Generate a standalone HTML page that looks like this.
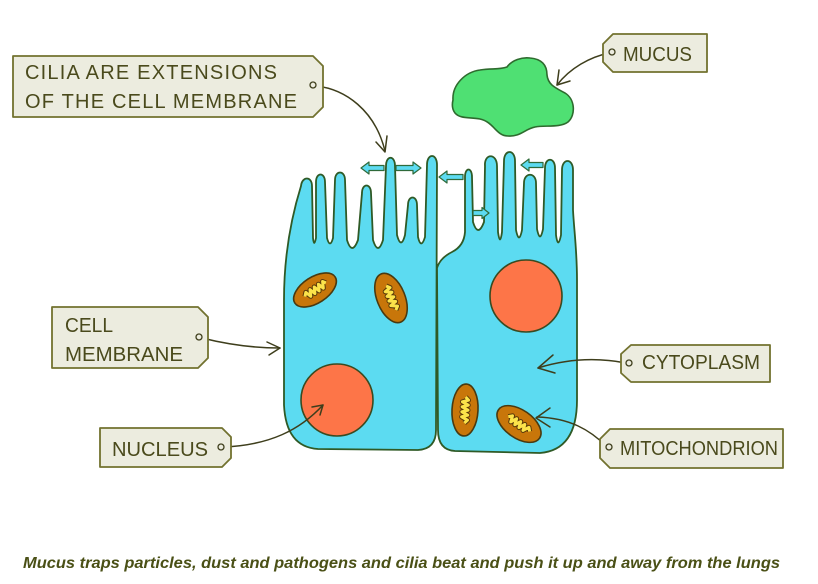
<!DOCTYPE html>
<html>
<head>
<meta charset="utf-8">
<style>
  html,body{margin:0;padding:0;background:#fff;}
  svg{display:block;}
  .lbl{font-family:"Liberation Sans",sans-serif;font-size:20px;fill:#4a4a1c;}
  .tag{fill:#ececdf;stroke:#72722f;stroke-width:1.8;stroke-linejoin:round;}
  .con{fill:none;stroke:#3e3e1c;stroke-width:1.5;stroke-linecap:round;stroke-linejoin:round;}
  .cell{fill:#5cdbf1;stroke:#2f5a26;stroke-width:1.8;stroke-linejoin:round;}
  .arr{fill:#5cdbf1;stroke:#2f6a3a;stroke-width:1.2;stroke-linejoin:round;}
  .mito{fill:#c8760a;stroke:#4a3a10;stroke-width:1.6;}
</style>
</head>
<body>
<svg width="818" height="584" viewBox="0 0 818 584" xmlns="http://www.w3.org/2000/svg">
  <rect width="818" height="584" fill="#fff"/>

  <!-- Mucus blob -->
  <path d="M 453,100 C 452,85 465,72 480,70 C 492,68 498,70 507,67 C 512,60 522,57 530,58 C 542,59 547,65 547,75 C 548,85 556,88 565,93 C 575,99 576,115 568,122 C 560,128 545,125 535,127 C 525,129 520,137 508,136 C 496,136 494,122 480,119 C 470,117 460,119 455,113 C 452,109 452,104 453,100 Z" fill="#4fe073" stroke="#2e6b2e" stroke-width="1.6"/>

  <!-- Left cell -->
  <path class="cell" d="M 284,300
    C 284,255 292,215 301,186
    C 302,176 312,176 312,186
    L 313,238 Q 314,248 316,238
    L 316,182 C 316,172 325,172 325,182
    L 327,238 Q 330,249 333,238
    L 335,180 C 335,170 345,170 345,180
    L 347,240 Q 352,256 358,240
    L 362,193 C 362,183 371,183 371,193
    L 373,240 Q 378,256 383,240
    L 386,166 C 386,155 395,155 395,166
    L 397,235 Q 401,250 405,235
    L 408,205 C 408,195 417,195 417,205
    L 418,237 Q 421,250 425,237
    L 427,165 C 427,153 437,153 437,165
    L 436,430 Q 436,449 418,450
    L 318,449 Q 286,447 284,405 Z"/>

  <!-- Right cell -->
  <path class="cell" d="M 438,430
    L 437,268 Q 440,258 452,252 Q 464,246 465,232
    L 465,177 C 465,167 472,167 472,177
    L 473,222 Q 478,238 484,222
    L 485,166 C 484,153 497,153 497,166
    L 498,232 Q 500,247 502,232
    L 504,161 C 504,149 515,149 515,161
    L 516,230 Q 519,245 522,230
    L 524,183 C 524,172 536,172 536,183
    L 537,229 Q 540,244 543,229
    L 545,168 C 545,157 555,157 555,168
    L 556,235 Q 558,250 561,235
    L 562,170 C 562,158 573,158 573,170
    L 573,210 C 574,230 577,250 577,280
    L 577,400 Q 577,450 540,453
    L 455,451 Q 438,450 438,430 Z"/>

  <!-- Cilia movement arrows -->
  <polygon class="arr" points="361,168 369,162 369,165.5 384,165.5 384,170.5 369,170.5 369,174"/>
  <polygon class="arr" points="421,168 413,162 413,165.5 396,165.5 396,170.5 413,170.5 413,174"/>
  <polygon class="arr" points="439,177 447,171 447,174.5 463,174.5 463,179.5 447,179.5 447,183"/>
  <polygon class="arr" points="489,213 482,207.5 482,210.5 473,210.5 473,215.5 482,215.5 482,218.5"/>
  <polygon class="arr" points="521,165 529,159 529,162.5 543,162.5 543,167.5 529,167.5 529,171"/>

  <!-- Nuclei -->
  <circle cx="337" cy="400" r="36" fill="#fd7548" stroke="#3a4a20" stroke-width="1.6"/>
  <circle cx="526" cy="296" r="36" fill="#fd7548" stroke="#3a4a20" stroke-width="1.6"/>

  <!-- Mitochondria -->
  <g transform="translate(315,290) rotate(-33)">
    <ellipse class="mito" rx="24" ry="13"/>
    <polyline points="-12,0 -9,-3 -7,3 -4,-3 -2,3 1,-3 3,3 6,-3 8,3 11,-3 13,0" fill="none" stroke="#5a3a0a" stroke-width="5" stroke-linejoin="round"/>
    <polyline points="-12,0 -9,-3 -7,3 -4,-3 -2,3 1,-3 3,3 6,-3 8,3 11,-3 13,0" fill="none" stroke="#fbe34a" stroke-width="3" stroke-linejoin="round"/>
  </g>
  <g transform="translate(391,298) rotate(68)">
    <ellipse class="mito" rx="26" ry="14"/>
    <polyline points="-13,0 -10,-3 -8,3 -5,-3 -3,3 0,-3 2,3 5,-3 7,3 10,-3 13,0" fill="none" stroke="#5a3a0a" stroke-width="5" stroke-linejoin="round"/>
    <polyline points="-13,0 -10,-3 -8,3 -5,-3 -3,3 0,-3 2,3 5,-3 7,3 10,-3 13,0" fill="none" stroke="#fbe34a" stroke-width="3" stroke-linejoin="round"/>
  </g>
  <g transform="translate(465,410) rotate(93)">
    <ellipse class="mito" rx="26" ry="13"/>
    <polyline points="-13,0 -10,-3 -8,3 -5,-3 -3,3 0,-3 2,3 5,-3 7,3 10,-3 13,0" fill="none" stroke="#5a3a0a" stroke-width="5" stroke-linejoin="round"/>
    <polyline points="-13,0 -10,-3 -8,3 -5,-3 -3,3 0,-3 2,3 5,-3 7,3 10,-3 13,0" fill="none" stroke="#fbe34a" stroke-width="3" stroke-linejoin="round"/>
  </g>
  <g transform="translate(519,424) rotate(35)">
    <ellipse class="mito" rx="25" ry="14"/>
    <polyline points="-13,0 -10,-3 -8,3 -5,-3 -3,3 0,-3 2,3 5,-3 7,3 10,-3 13,0" fill="none" stroke="#5a3a0a" stroke-width="5" stroke-linejoin="round"/>
    <polyline points="-13,0 -10,-3 -8,3 -5,-3 -3,3 0,-3 2,3 5,-3 7,3 10,-3 13,0" fill="none" stroke="#fbe34a" stroke-width="3" stroke-linejoin="round"/>
  </g>

  <!-- Connectors -->
  <path class="con" d="M 316,86 C 345,89 375,110 385,151"/>
  <path class="con" d="M 376,142 L 385,152 L 387,136"/>

  <path class="con" d="M 609,53 C 590,57 570,68 557,85"/>
  <path class="con" d="M 559,70 L 557,85 L 570,81"/>

  <path class="con" d="M 202,338 C 230,345 255,348 280,348"/>
  <path class="con" d="M 267,342 L 280,348 L 269,355"/>

  <path class="con" d="M 224,447 C 270,445 300,430 323,405"/>
  <path class="con" d="M 312,407 L 323,405 L 320,415"/>

  <path class="con" d="M 626,363 C 600,358 570,358 538,368"/>
  <path class="con" d="M 553,355 L 538,368 L 555,373"/>

  <path class="con" d="M 606,446 C 590,430 570,418 537,417"/>
  <path class="con" d="M 550,408 L 536,418 L 550,427"/>

  <!-- Tags -->
  <path class="tag" d="M 13,56 L 313,56 L 323,66 L 323,107 L 313,117 L 13,117 Z"/>
  <circle cx="313" cy="85" r="3" fill="#ececdf" stroke="#3e3e1c" stroke-width="1.3"/>
  <text class="lbl" x="25" y="79" textLength="252" lengthAdjust="spacing">CILIA  ARE  EXTENSIONS</text>
  <text class="lbl" x="25" y="108" textLength="272" lengthAdjust="spacing">OF THE CELL MEMBRANE</text>

  <path class="tag" d="M 613,34 L 707,34 L 707,72 L 613,72 L 603,62 L 603,44 Z"/>
  <circle cx="612" cy="52" r="3" fill="#ececdf" stroke="#3e3e1c" stroke-width="1.3"/>
  <text class="lbl" x="623" y="61" textLength="69" lengthAdjust="spacingAndGlyphs">MUCUS</text>

  <path class="tag" d="M 52,307 L 198,307 L 208,317 L 208,358 L 198,368 L 52,368 Z"/>
  <circle cx="199" cy="337" r="3" fill="#ececdf" stroke="#3e3e1c" stroke-width="1.3"/>
  <text class="lbl" x="65" y="332" textLength="48" lengthAdjust="spacingAndGlyphs">CELL</text>
  <text class="lbl" x="65" y="361" textLength="118" lengthAdjust="spacingAndGlyphs">MEMBRANE</text>

  <path class="tag" d="M 100,428 L 222,428 L 231,437 L 231,458 L 222,467 L 100,467 Z"/>
  <circle cx="221" cy="447" r="3" fill="#ececdf" stroke="#3e3e1c" stroke-width="1.3"/>
  <text class="lbl" x="112" y="456" textLength="96" lengthAdjust="spacingAndGlyphs">NUCLEUS</text>

  <path class="tag" d="M 631,345 L 770,345 L 770,382 L 631,382 L 621,373 L 621,354 Z"/>
  <circle cx="629" cy="363" r="3" fill="#ececdf" stroke="#3e3e1c" stroke-width="1.3"/>
  <text class="lbl" x="642" y="369" textLength="118" lengthAdjust="spacingAndGlyphs">CYTOPLASM</text>

  <path class="tag" d="M 610,429 L 783,429 L 783,468 L 610,468 L 600,458 L 600,439 Z"/>
  <circle cx="609" cy="447" r="3" fill="#ececdf" stroke="#3e3e1c" stroke-width="1.3"/>
  <text class="lbl" x="620" y="455" textLength="158" lengthAdjust="spacingAndGlyphs">MITOCHONDRION</text>

  <!-- Caption -->
  <text x="23" y="568" textLength="757" lengthAdjust="spacingAndGlyphs" font-family="Liberation Sans, sans-serif" font-size="16" font-weight="bold" font-style="italic" fill="#4a5016">Mucus traps particles, dust and pathogens and cilia beat and push it up and away from the lungs</text>
</svg>
</body>
</html>
